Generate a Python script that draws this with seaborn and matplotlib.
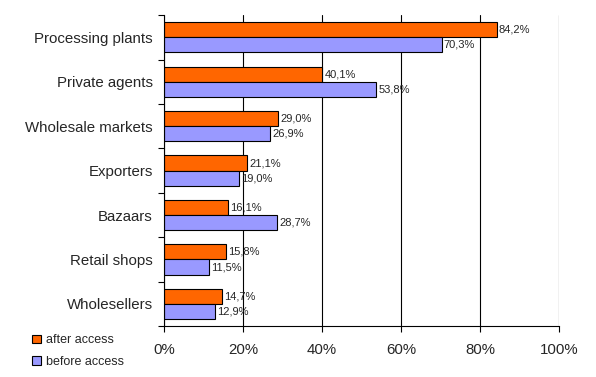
import pandas as pd
import matplotlib.pyplot as plt
import seaborn as sns
import numpy as np

# data
categories = ["Processing plants", "Private agents", "Wholesale markets", "Exporters",
              "Bazaars", "Retail shops", "Wholesellers"]
after_access = [84.2, 40.1, 29.0, 21.1, 16.1, 15.8, 14.7]
before_access = [70.3, 53.8, 26.9, 19.0, 28.7, 11.5, 12.9]
series = ["after access", "before access"]
colors = ["#FF6600", "#9999FF"]

df = pd.DataFrame({
    "category": categories * 2,
    "value": after_access + before_access,
    "series": [series[0]] * len(categories) + [series[1]] * len(categories),
})

sns.set_style("white")
plt.rcParams["font.family"] = ["Liberation Sans", "DejaVu Sans"]

fig = plt.figure(figsize=(5.96, 3.77), dpi=100)
ax = fig.add_axes([0.275, 0.135, 0.663, 0.825])

sns.barplot(data=df, y="category", x="value", hue="series", order=categories,
            hue_order=series, palette=colors, saturation=1, width=0.68, gap=0,
            edgecolor="black", linewidth=0.8, orient="h", ax=ax, legend=False)

for cont in ax.containers:
    labs = [f"{v:.1f}%".replace(".", ",") for v in cont.datavalues]
    ax.bar_label(cont, labels=labs, padding=1.5, fontsize=8)

ax.set_xlim(0, 100)
ax.set_ylim(len(categories) - 0.5, -0.5)
ax.set_xticks(np.arange(0, 101, 20))
ax.set_xticklabels([f"{t}%" for t in range(0, 101, 20)], fontsize=10.8)
ax.tick_params(axis="x", length=4, width=0.8, color="black", direction="out", pad=8, bottom=True)
ax.tick_params(axis="y", which="major", length=0, labelsize=10.8, pad=8)
ax.set_yticks(np.arange(-0.5, len(categories), 1), minor=True)
ax.tick_params(axis="y", which="minor", length=4, width=0.8, color="black", direction="out", left=True)
ax.set_xlabel("")
ax.set_ylabel("")

ax.xaxis.grid(True, color="black", linewidth=0.8)
ax.set_axisbelow(True)
for s in ["top", "right"]:
    ax.spines[s].set_visible(False)
for s in ["left", "bottom"]:
    ax.spines[s].set_color("black")
    ax.spines[s].set_linewidth(0.8)

handles = [plt.Rectangle((0, 0), 1, 1, facecolor=c, edgecolor="black", linewidth=0.8) for c in colors]
fig.legend(handles, series, loc="lower left", bbox_to_anchor=(0.035, -0.005), frameon=False,
           fontsize=9, handlelength=0.7, handleheight=0.7, handletextpad=0.4, labelspacing=0.75)

fig.savefig("out.png", dpi=100)
